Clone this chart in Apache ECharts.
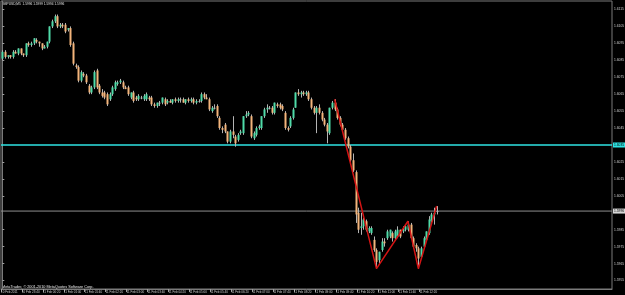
<!DOCTYPE html>
<html>
<head>
<meta charset="utf-8">
<style>
html,body{margin:0;padding:0;background:#000;}
#chart{width:625px;height:295px;}
</style>
<script src="https://cdn.jsdelivr.net/npm/echarts@6/dist/echarts.min.js"></script>
</head>
<body>
<div id="chart"></div>
<script>
// ---- data (GBPUSD M5) ----
const symbol = 'GBPUSD,M5';
const open = [1.6086,1.6090,1.6087,1.6088,1.6087,1.6090,1.6089,1.6092,1.6089,1.6088,
1.6095,1.6094,1.6095,1.6097,1.6096,1.6095,1.6092,1.6093,1.6096,1.6105,
1.6108,1.6111,1.6105,1.6106,1.6106,1.6103,1.6104,1.6095,1.6082,1.6081,
1.6073,1.6077,1.6076,1.6070,1.6066,1.6069,1.6079,1.6070,1.6066,1.6066,
1.6065,1.6062,1.6065,1.6068,1.6071,1.6072,1.6072,1.6069,1.6069,1.6063,
1.6066,1.6063,1.6062,1.6063,1.6062,1.6062,1.6063,1.6063,1.6059,1.6058,
1.6060,1.6060,1.6062,1.6060,1.6061,1.6060,1.6062,1.6061,1.6062,1.6062,
1.6060,1.6062,1.6061,1.6062,1.6060,1.6061,1.6061,1.6065,1.6063,1.6062,
1.6055,1.6057,1.6058,1.6051,1.6045,1.6047,1.6043,1.6037,1.6043,1.6040,
1.6038,1.6042,1.6042,1.6052,1.6053,1.6052,1.6039,1.6041,1.6045,1.6045,
1.6052,1.6056,1.6057,1.6057,1.6054,1.6059,1.6059,1.6058,1.6054,1.6045,
1.6046,1.6051,1.6057,1.6066,1.6065,1.6066,1.6065,1.6066,1.6062,1.6057,
1.6054,1.6057,1.6054,1.6050,1.6047,1.6042,1.6057,1.6060,1.6056,1.6051,
1.6047,1.6044,1.6039,1.6034,1.6026,1.6019,1.5995,1.5986,1.5987,1.5990,
1.5984,1.5983,1.5979,1.5973,1.5967,1.5973,1.5978,1.5980,1.5981,1.5983,
1.5980,1.5981,1.5985,1.5984,1.5985,1.5985,1.5988,1.5980,1.5976,1.5974,
1.5969,1.5975,1.5979,1.5983,1.5990,1.5994,1.5996];
const high = [1.6091,1.6091,1.6088,1.6088,1.6091,1.6091,1.6092,1.6092,1.6089,1.6095,
1.6096,1.6096,1.6098,1.6098,1.6096,1.6095,1.6094,1.6096,1.6105,1.6109,
1.6112,1.6112,1.6107,1.6107,1.6107,1.6104,1.6105,1.6096,1.6083,1.6082,
1.6079,1.6078,1.6077,1.6071,1.6070,1.6079,1.6080,1.6071,1.6068,1.6067,
1.6066,1.6066,1.6070,1.6073,1.6073,1.6074,1.6073,1.6070,1.6070,1.6066,
1.6067,1.6064,1.6065,1.6064,1.6065,1.6066,1.6064,1.6064,1.6060,1.6060,
1.6061,1.6063,1.6063,1.6062,1.6062,1.6062,1.6063,1.6063,1.6063,1.6063,
1.6062,1.6063,1.6063,1.6063,1.6062,1.6062,1.6066,1.6066,1.6065,1.6063,
1.6058,1.6059,1.6059,1.6052,1.6046,1.6048,1.6043,1.6044,1.6052,1.6041,
1.6042,1.6044,1.6052,1.6055,1.6055,1.6053,1.6043,1.6046,1.6047,1.6052,
1.6057,1.6059,1.6058,1.6058,1.6060,1.6060,1.6060,1.6059,1.6055,1.6046,
1.6052,1.6057,1.6066,1.6068,1.6067,1.6067,1.6067,1.6067,1.6063,1.6058,
1.6058,1.6059,1.6055,1.6051,1.6048,1.6057,1.6061,1.6062,1.6057,1.6052,
1.6048,1.6045,1.6040,1.6035,1.6030,1.6020,1.5998,1.5995,1.5992,1.5991,
1.5987,1.5987,1.5981,1.5974,1.5972,1.5980,1.5980,1.5985,1.5985,1.5984,
1.5985,1.5987,1.5985,1.5987,1.5988,1.5990,1.5989,1.5981,1.5977,1.5975,
1.5975,1.5981,1.5984,1.5993,1.5995,1.5998,1.5999];
const low = [1.6085,1.6086,1.6086,1.6086,1.6086,1.6089,1.6088,1.6088,1.6087,1.6087,
1.6093,1.6093,1.6094,1.6095,1.6093,1.6091,1.6092,1.6092,1.6095,1.6104,
1.6107,1.6104,1.6104,1.6104,1.6101,1.6102,1.6093,1.6082,1.6080,1.6072,
1.6072,1.6075,1.6071,1.6065,1.6065,1.6068,1.6068,1.6065,1.6063,1.6062,
1.6058,1.6061,1.6064,1.6067,1.6070,1.6071,1.6068,1.6068,1.6064,1.6062,
1.6060,1.6061,1.6061,1.6062,1.6061,1.6061,1.6061,1.6058,1.6057,1.6057,
1.6058,1.6059,1.6058,1.6059,1.6060,1.6059,1.6060,1.6060,1.6060,1.6060,
1.6059,1.6060,1.6060,1.6059,1.6059,1.6060,1.6060,1.6062,1.6062,1.6055,
1.6054,1.6056,1.6051,1.6044,1.6042,1.6042,1.6036,1.6036,1.6039,1.6034,
1.6037,1.6041,1.6041,1.6051,1.6052,1.6039,1.6038,1.6040,1.6044,1.6044,
1.6051,1.6054,1.6056,1.6053,1.6053,1.6057,1.6056,1.6055,1.6044,1.6043,
1.6045,1.6050,1.6057,1.6064,1.6063,1.6064,1.6064,1.6061,1.6056,1.6053,
1.6042,1.6053,1.6049,1.6046,1.6036,1.6041,1.6056,1.6055,1.6050,1.6046,
1.6043,1.6038,1.6033,1.6025,1.6019,1.5989,1.5983,1.5982,1.5985,1.5984,
1.5983,1.5982,1.5972,1.5962,1.5965,1.5972,1.5975,1.5979,1.5980,1.5978,
1.5979,1.5980,1.5980,1.5983,1.5984,1.5984,1.5980,1.5974,1.5972,1.5962,
1.5968,1.5974,1.5978,1.5982,1.5989,1.5988,1.5994];
const close = [1.6090,1.6087,1.6088,1.6087,1.6090,1.6089,1.6092,1.6089,1.6088,1.6095,
1.6094,1.6095,1.6098,1.6096,1.6095,1.6092,1.6093,1.6096,1.6105,1.6108,
1.6111,1.6105,1.6106,1.6105,1.6102,1.6104,1.6094,1.6083,1.6081,1.6073,
1.6078,1.6076,1.6072,1.6066,1.6069,1.6078,1.6069,1.6066,1.6064,1.6063,
1.6059,1.6065,1.6069,1.6072,1.6072,1.6073,1.6069,1.6068,1.6065,1.6066,
1.6061,1.6062,1.6064,1.6063,1.6064,1.6065,1.6062,1.6059,1.6058,1.6060,
1.6060,1.6063,1.6059,1.6061,1.6060,1.6062,1.6061,1.6062,1.6062,1.6060,
1.6062,1.6061,1.6062,1.6060,1.6061,1.6061,1.6065,1.6063,1.6062,1.6056,
1.6057,1.6057,1.6052,1.6045,1.6044,1.6043,1.6037,1.6043,1.6041,1.6036,
1.6041,1.6043,1.6052,1.6053,1.6054,1.6040,1.6042,1.6045,1.6046,1.6052,
1.6056,1.6057,1.6057,1.6054,1.6060,1.6058,1.6057,1.6056,1.6045,1.6044,
1.6051,1.6056,1.6066,1.6065,1.6066,1.6065,1.6066,1.6062,1.6057,1.6054,
1.6057,1.6054,1.6050,1.6047,1.6043,1.6057,1.6060,1.6056,1.6051,1.6047,
1.6044,1.6039,1.6034,1.6026,1.6020,1.5994,1.5985,1.5987,1.5991,1.5985,
1.5986,1.5986,1.5973,1.5966,1.5972,1.5978,1.5977,1.5984,1.5985,1.5980,
1.5984,1.5985,1.5981,1.5985,1.5987,1.5988,1.5980,1.5975,1.5974,1.5968,
1.5974,1.5980,1.5984,1.5991,1.5994,1.5995,1.5996];

const xTickLabels = ['10 Feb 2011','10 Feb 23:40','11 Feb 00:20','11 Feb 01:00','11 Feb 01:40',
'11 Feb 02:20','11 Feb 03:00','11 Feb 03:40','11 Feb 04:20','11 Feb 05:00','11 Feb 05:40',
'11 Feb 06:20','11 Feb 07:00','11 Feb 07:40','11 Feb 08:20','11 Feb 09:00','11 Feb 09:40',
'11 Feb 10:20','11 Feb 11:00','11 Feb 11:40','11 Feb 12:20'];
const xTickBars = [0,8,16,24,32,40,48,56,64,72,80,88,96,104,112,120,128,136,144,152,160];
const yTickLabels = [1.6115,1.6105,1.6095,1.6085,1.6075,1.6065,1.6055,1.6045,1.6025,1.6015,1.6005,1.5985,1.5975,1.5965,1.5955];

const zigzagBars = [127,143,155,159,166];
const zigzagPrices = [1.6062,1.5962,1.5990,1.5962,1.5999];

const levelLine = 1.6035;   // cyan horizontal line
const bidLine = 1.5996;     // current price line

// ---- build ----
const BULL = '#4fdba8', BEAR = '#f3b47b', WICK = '#b4b4b4';
const X_MIN = -0.5, X_MAX = 233;
const candles = open.map((o, i) => [i, o, close[i], low[i], high[i]]);
const n = open.length;
const xTickPos = xTickBars.map(b => b - 0.5);
const FONT = 'Liberation Sans';

function hLine(value, color, width, boxColor) {
  return {
    type: 'line',
    data: [[X_MIN, value], [X_MAX, value]],
    symbol: 'none',
    silent: true,
    lineStyle: {color: color, width: width},
    endLabel: {show: true, distance: 1, formatter: () => value.toFixed(4),
      backgroundColor: boxColor, color: '#000', fontSize: 3.3, padding: [1, 1], fontFamily: FONT},
    z: 1
  };
}

const chart = echarts.init(document.getElementById('chart'), null, {renderer: 'canvas'});

const option = {
  backgroundColor: '#000000',
  animation: false,
  grid: {left: 1, right: 13, top: 1, bottom: 6, show: true, borderColor: '#7a7a7a', borderWidth: 1, outerBoundsMode: 'none'},
  xAxis: {
    type: 'value', min: X_MIN, max: X_MAX,
    axisLine: {show: true, lineStyle: {color: '#7a7a7a', width: 1}},
    splitLine: {show: false},
    axisTick: {show: true, customValues: xTickPos, length: 3, lineStyle: {color: '#a0a0a0'}},
    axisLabel: {
      customValues: xTickPos, align: 'left', margin: 2, fontSize: 3, color: '#cfcfcf', fontFamily: FONT,
      formatter: v => xTickLabels[xTickPos.indexOf(v)] || ''
    }
  },
  yAxis: {
    type: 'value', position: 'right', min: 1.5950, max: 1.6120,
    axisLine: {show: true, lineStyle: {color: '#7a7a7a', width: 1}},
    splitLine: {show: false},
    axisTick: {show: true, customValues: yTickLabels, length: 2, lineStyle: {color: '#a0a0a0'}},
    axisLabel: {customValues: yTickLabels, fontSize: 3.3, color: '#cfcfcf', margin: 2, fontFamily: FONT,
      formatter: v => v.toFixed(4)}
  },
  graphic: [
    {type: 'text', x: 2, y: 4, style: {text: symbol + '  ' + open[n-1].toFixed(4) + ' ' + high[n-1].toFixed(4) + ' ' + low[n-1].toFixed(4) + ' ' + close[n-1].toFixed(4),
      fill: '#e6e6e6', font: '3.2px "Liberation Sans"', verticalAlign: 'middle'}},
    {type: 'text', x: 2, y: 286.5, style: {text: 'MetaTrader, © 2001-2010 MetaQuotes Software Corp.',
      fill: '#e6e6e6', font: '3.8px "Liberation Sans"', verticalAlign: 'middle'}}
  ],
  series: [
    hLine(levelLine, '#2fe3e3', 1.6, '#2fe3e3'),
    hLine(bidLine, '#8e8e8e', 1, '#d8d8d8'),
    {
      type: 'custom',
      clip: true,
      data: candles,
      encode: {x: 0, y: [1, 2, 3, 4]},
      renderItem: function (params, api) {
        const x = api.value(0), o = api.value(1), c = api.value(2), l = api.value(3), h = api.value(4);
        const po = api.coord([x, o]), pc = api.coord([x, c]), pl = api.coord([x, l]), ph = api.coord([x, h]);
        const cx = Math.round(po[0]);
        const top = Math.min(po[1], pc[1]), bot = Math.max(po[1], pc[1]);
        const color = c > o ? BULL : (c < o ? BEAR : WICK);
        return {
          type: 'group',
          children: [
            {type: 'line', shape: {x1: cx + 0.5, y1: ph[1], x2: cx + 0.5, y2: pl[1]}, style: {stroke: WICK, lineWidth: 1}},
            {type: 'rect', shape: {x: cx - 0.5, y: top, width: 2, height: Math.max(1, bot - top)}, style: {fill: color}}
          ]
        };
      },
      z: 2
    },
    {
      type: 'line',
      data: zigzagBars.map((b, i) => [b, zigzagPrices[i]]),
      symbol: 'none',
      silent: true,
      lineStyle: {color: '#d41414', width: 1.5},
      z: 3
    }
  ]
};
chart.setOption(option);
</script>
</body>
</html>
